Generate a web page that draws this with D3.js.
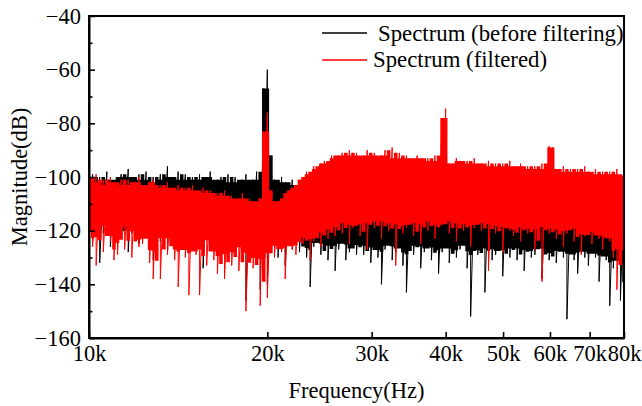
<!DOCTYPE html>
<html><head><meta charset="utf-8">
<script src="https://cdn.jsdelivr.net/npm/d3@7"></script>
<style>
html,body{margin:0;padding:0;background:#fff;}
svg{display:block;}
text{font-family:"Liberation Serif","Times New Roman",serif;fill:#000;}
</style>
</head><body>
<svg id="chart" width="642" height="406"></svg>
<script>
// ---- data ----
const xTickValues = [10000, 20000, 30000, 40000, 50000, 60000, 70000, 80000];
const xTickLabels = ["10k", "20k", "30k", "40k", "50k", "60k", "70k", "80k"];
const yTickValues = [-160, -140, -120, -100, -80, -60, -40];
const yMinorTicks = [-150, -130, -110, -90, -70, -50];
const seriesNames = ["Spectrum (before filtering)", "Spectrum (filtered)"];
const seriesColors = ["#000000", "#ff0000"];

// per-bin maxima / minima (dB) on 151 log-spaced bins from 10 kHz to 80 kHz
const blackHi = [
 -101,-99,-103,-100,-102,-98,-101,-103,-100,-99,
 -102,-97,-100,-103,-99,-101,-98,-102,-100,-103,
 -99,-101,-96,-100,-102,-98,-101,-99,-103,-100,
 -101,-99,-102,-100,-98,-103,-101,-100,-102,-99,
 -102,-100,-103,-101,-99,-102,-101,-98,-102,-67,
 -60,-92,-101,-103,-100,-102,-104,-101,-103,-105,
 -104,-103,-105,-104,-106,-103,-105,-104,-106,-105,
 -104,-106,-103,-105,-104,-106,-105,-103,-106,-104,
 -105,-103,-106,-104,-105,-107,-104,-106,-105,-103,
 -106,-104,-105,-107,-104,-106,-105,-104,-107,-105,
 -104,-106,-105,-107,-104,-106,-105,-107,-104,-106,
 -105,-107,-104,-106,-105,-107,-106,-104,-107,-105,
 -106,-104,-107,-105,-106,-108,-105,-107,-106,-104,
 -107,-105,-106,-108,-105,-107,-106,-105,-108,-106,
 -105,-107,-106,-108,-105,-107,-106,-108,-105,-107,-106
];
const blackLo = [
 -119,-124,-118,-132,-121,-117,-126,-120,-118,-123,
 -119,-128,-121,-117,-125,-120,-119,-122,-131,-118,
 -124,-120,-128,-118,-122,-126,-119,-121,-127,-120,
 -123,-118,-134,-121,-126,-119,-124,-122,-120,-127,
 -122,-125,-120,-128,-146,-121,-124,-130,-142,-126,
 -140,-126,-122,-130,-125,-133,-124,-127,-123,-128,
 -125,-130,-141,-126,-124,-129,-127,-131,-125,-135,
 -127,-124,-131,-128,-126,-129,-125,-129,-127,-132,
 -126,-130,-140,-127,-125,-131,-128,-126,-133,-143,
 -127,-129,-125,-134,-128,-126,-131,-127,-136,-128,
 -126,-132,-128,-130,-127,-125,-134,-152,-127,-129,
 -128,-143,-126,-131,-129,-127,-137,-128,-130,-126,
 -131,-128,-135,-127,-130,-129,-126,-138,-128,-131,
 -129,-132,-127,-130,-153,-128,-131,-136,-127,-130,
 -133,-128,-130,-139,-129,-131,-148,-134,-130,-146,-138
];
const redHi = [
 -100,-102,-99,-103,-101,-104,-100,-102,-103,-101,
 -103,-101,-104,-102,-100,-103,-105,-102,-101,-104,
 -103,-105,-102,-104,-106,-103,-105,-104,-106,-103,
 -105,-107,-104,-106,-105,-108,-106,-107,-105,-108,
 -107,-109,-108,-106,-110,-108,-109,-111,-108,-83,
 -76,-105,-111,-109,-108,-106,-105,-104,-103,-101,
 -100,-98,-99,-96,-97,-95,-94,-95,-92,-93,
 -92,-91,-93,-90,-92,-91,-93,-92,-90,-92,
 -91,-93,-92,-90,-93,-89,-94,-91,-93,-92,
 -93,-94,-92,-93,-95,-93,-94,-92,-94,-78,
 -74.5,-95,-95,-93,-94,-96,-94,-95,-93,-95,
 -95,-96,-94,-96,-95,-97,-95,-96,-94,-96,
 -96,-95,-97,-96,-98,-96,-97,-95,-97,-88.5,
 -89,-97,-98,-96,-98,-97,-99,-97,-98,-96,
 -98,-99,-97,-99,-98,-100,-98,-99,-97,-100,-99
];
const redLo = [
 -118,-126,-133,-117,-128,-119,-124,-131,-129,-118,
 -127,-119,-130,-121,-126,-125,-120,-132,-138,-121,
 -138,-124,-129,-121,-131,-141,-123,-130,-144,-126,
 -129,-144,-124,-133,-123,-131,-136,-127,-138,-130,
 -133,-125,-135,-127,-150,-129,-134,-131,-148,-130,
 -145,-126,-130,-125,-128,-138,-124,-127,-129,-123,
 -125,-122,-131,-124,-121,-126,-120,-123,-119,-122,
 -118,-121,-116,-125,-119,-117,-122,-118,-127,-116,
 -119,-117,-123,-116,-120,-118,-133,-117,-121,-119,
 -116,-122,-118,-125,-117,-120,-116,-123,-119,-118,
 -117,-121,-116,-124,-118,-120,-117,-126,-119,-116,
 -120,-118,-135,-117,-121,-119,-128,-118,-120,-122,
 -119,-124,-118,-121,-120,-127,-119,-139,-118,-121,
 -120,-123,-119,-126,-121,-118,-124,-120,-129,-122,
 -121,-125,-120,-123,-127,-121,-124,-130,-142,-122,-140
];

// ---- layout ----
const svg = d3.select("#chart");
const L = 89, R = 624, T = 16, B = 338;
const x = d3.scaleLog().domain([10000, 80000]).range([L, R]);
const y = d3.scaleLinear().domain([-160, -40]).range([B, T]);
const FS = 22.5;

// bin frequencies (log-spaced grid of the decimated spectrum)
const nBins = blackHi.length;
const binFreq = d3.range(nBins).map(i => 10000 * Math.pow(8, i / (nBins - 1)));

svg.append("defs").append("clipPath").attr("id", "plotClip")
  .append("rect").attr("x", L).attr("y", T).attr("width", R - L).attr("height", B - T);

// dense core of each trace: rolling quantile (3 bins) of the bin extremes
function rolling(arr, q) {
  return arr.map((v, i) => {
    const w = arr.slice(Math.max(0, i - 1), Math.min(arr.length, i + 2)).slice().sort(d3.ascending);
    return d3.quantile(w, q);
  });
}
const line = d3.line().x(d => x(d[0])).y(d => y(d[1]));
const area = d3.area().curve(d3.curveStep)
  .x((d, i) => x(binFreq[i])).y0(d => y(d[1])).y1(d => y(d[0]));
function zigzag(hi, lo) {
  const pts = [];
  for (let i = 0; i < hi.length; i++) {
    pts.push([binFreq[i], hi[i]]);
    pts.push([binFreq[i], lo[i]]);
  }
  return pts;
}
const coreLoQuantile = [0.85, 0.7];
const plot = svg.append("g").attr("clip-path", "url(#plotClip)");
[[blackHi, blackLo], [redHi, redLo]].forEach((s, k) => {
  const coreHi = rolling(s[0], 0.5);
  const coreLo = rolling(s[1], coreLoQuantile[k]);
  plot.append("path")
    .attr("d", area(coreHi.map((h, i) => [h, coreLo[i]])))
    .attr("fill", seriesColors[k]);
  plot.append("path")
    .attr("d", line(zigzag(s[0], s[1])))
    .attr("fill", "none")
    .attr("stroke", seriesColors[k])
    .attr("stroke-width", 1);
});

// ---- axes ----
const fmt = d => (d < 0 ? "\u2212" + Math.abs(d) : String(d));
const yAxis = svg.append("g").attr("transform", `translate(${L},0)`)
  .call(d3.axisLeft(y).tickValues(yTickValues).tickFormat(fmt).tickSize(-6).tickSizeOuter(0).tickPadding(8));
const yMinor = svg.append("g").attr("transform", `translate(${L},0)`)
  .call(d3.axisLeft(y).tickValues(yMinorTicks).tickFormat("").tickSize(-3.5).tickSizeOuter(0));
yMinor.select(".domain").remove();
const xAxis = svg.append("g").attr("transform", `translate(0,${B})`)
  .call(d3.axisBottom(x).tickValues(xTickValues).tickFormat((d, i) => xTickLabels[i]).tickSize(-6).tickSizeOuter(0).tickPadding(7.5));

[yAxis, yMinor, xAxis].forEach(g => {
  g.selectAll("line").attr("stroke", "#000").attr("stroke-width", 1.6);
  g.selectAll(".domain").attr("stroke", "#000").attr("stroke-width", 2);
  g.selectAll("text").attr("font-size", FS).attr("font-family", "Liberation Serif, Times New Roman, serif").attr("fill", "#000");
});

// frame
svg.append("rect").attr("x", L).attr("y", T).attr("width", R - L).attr("height", B - T)
  .attr("fill", "none").attr("stroke", "#000").attr("stroke-width", 2);

// axis titles
svg.append("text").attr("x", (L + R) / 2).attr("y", 398).attr("text-anchor", "middle")
  .attr("font-size", FS).text("Frequency(Hz)");
svg.append("text").attr("transform", `translate(27,${(T + B) / 2}) rotate(-90)`)
  .attr("text-anchor", "middle").attr("font-size", FS).text("Magnitude(dB)");

// legend
const legend = svg.append("g");
const legY = [33, 60], legTextX = [378, 373], legBase = [40.5, 67];
seriesNames.forEach((name, k) => {
  legend.append("line").attr("x1", 322).attr("x2", 367).attr("y1", legY[k]).attr("y2", legY[k])
    .attr("stroke", seriesColors[k]).attr("stroke-width", 1.5);
  legend.append("text").attr("x", legTextX[k]).attr("y", legBase[k]).attr("font-size", 22.8).text(name);
});
</script>
</body></html>
